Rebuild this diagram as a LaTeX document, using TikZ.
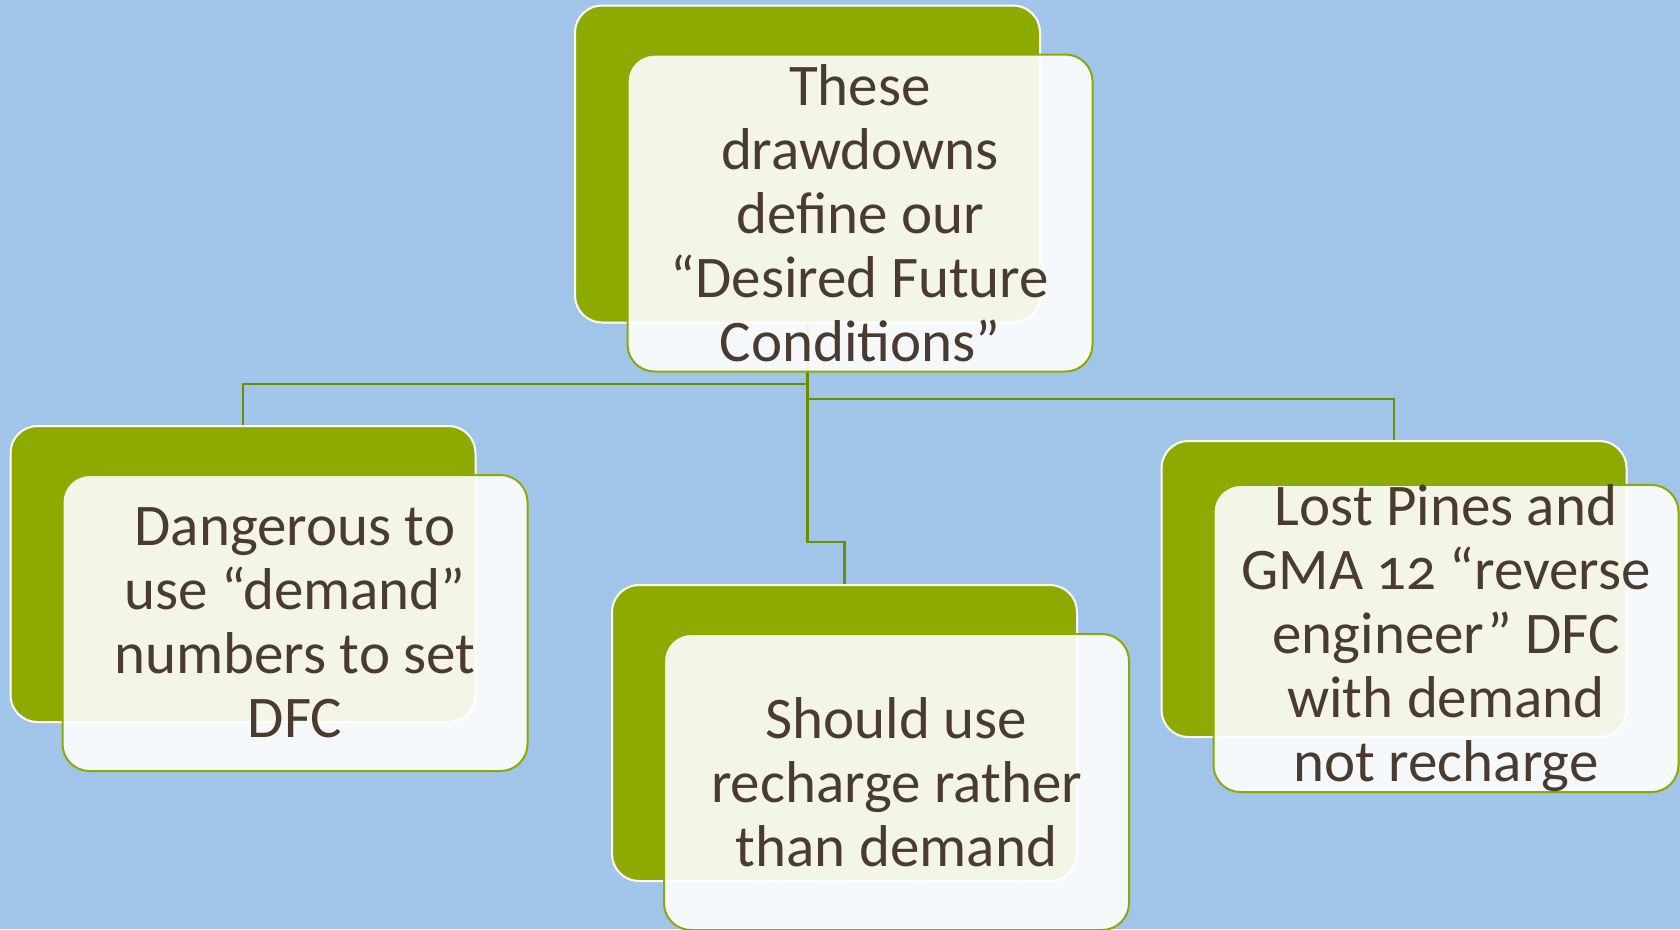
\documentclass[tikz,border=0pt]{standalone}
\usepackage{fontspec}
\setmainfont{Carlito}[Numbers=OldStyle]
\definecolor{bgblue}{HTML}{A1C4E9}
\definecolor{leaf}{HTML}{8CAA00}
\definecolor{conncol}{HTML}{6E8C00}
\definecolor{ink}{HTML}{4B3B2F}
\tikzset{
  backbox/.style={rectangle, rounded corners=27pt, fill=leaf, draw=white, line width=2pt,
    minimum width=465pt, minimum height=296pt, inner sep=0pt},
  frontbox/.style={rectangle, rounded corners=27pt, fill=white, fill opacity=0.9, text opacity=1,
    draw=leaf, line width=2pt, minimum width=465pt, minimum height=296pt, inner sep=0pt,
    text=ink, align=center, font=\fontsize{59}{64}\selectfont},
  conn/.style={draw=conncol, line width=2.5pt}
}
\begin{document}
\begin{tikzpicture}[x=1pt,y=-1pt]
\fill[bgblue] (0,0) rectangle (1680,929);
\useasboundingbox (0,0) rectangle (1680,929);
% back boxes
\node[backbox, minimum height=317pt] (tb) at (807.5,164) {};
\node[backbox] (lb) at (243,574) {};
\node[backbox] (mb) at (844.5,733) {};
\node[backbox] (rb) at (1394,589) {};
% connectors
\coordinate (h1) at (0,384);
\coordinate (h2) at (0,399);
\coordinate (h3) at (0,542);
\draw[conn] (tb.south) -- (tb.south |- h1) -| (lb.north);
\draw[conn] (tb.south) -- (tb.south |- h2) -| (rb.north);
\draw[conn] (tb.south) -- (tb.south |- h3) -| (mb.north);
% front boxes
\node[frontbox, minimum height=317pt] (tf) at (860,213)
  {These\\drawdowns\\define our\\“Desired Future\\Conditions”};
\node[frontbox] (lf) at (295,623)
  {Dangerous to\\use “demand”\\numbers to set\\DFC};
\node[frontbox] (mf) at (896.5,782)
  {Should use\\recharge rather\\than demand};
\node[frontbox] (rf) at (1446,638.5)
  {Lost Pines and\\GMA 12 “reverse\\engineer” DFC\\with demand\\not recharge};
\end{tikzpicture}
\end{document}
